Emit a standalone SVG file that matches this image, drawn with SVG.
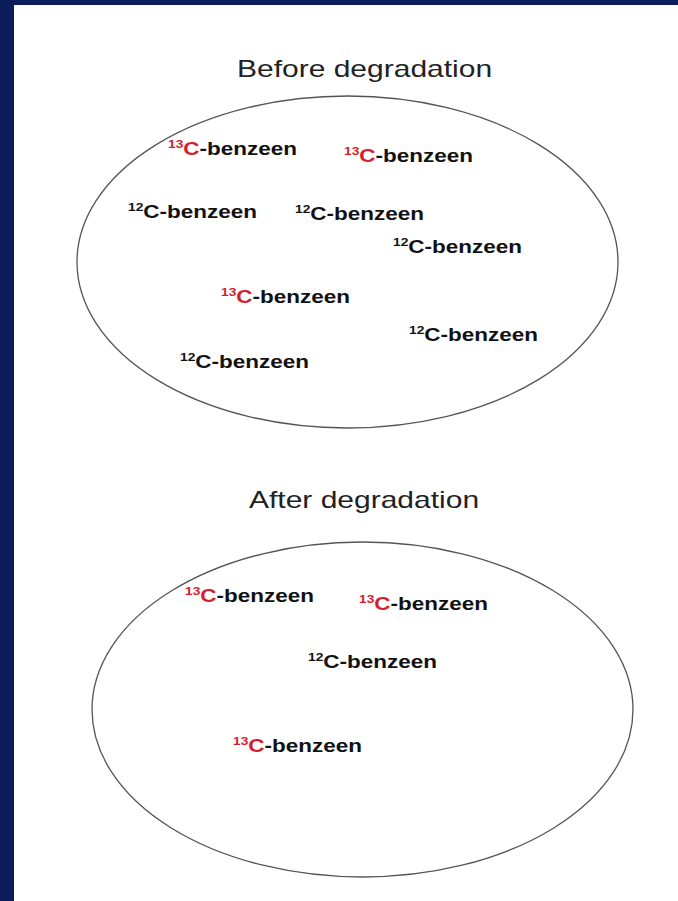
<svg xmlns="http://www.w3.org/2000/svg" width="678" height="901" viewBox="0 0 678 901">
  <style>
    .title { font-family: "Liberation Sans", Arial, sans-serif; font-size: 24px; fill: #222; }
    .lbl { font-family: "Liberation Sans", Arial, sans-serif; font-size: 18px; font-weight: bold; fill: #111; }
    .sup { font-size: 11px; }
    .red { fill: #d3202c; }
    .ell { fill: none; stroke: #555; stroke-width: 1.3; }
  </style>
  <rect x="0" y="0" width="678" height="901" fill="#ffffff"/>
  <rect x="0" y="0" width="678" height="5" fill="#0b1e5b"/>
  <rect x="0" y="0" width="14" height="901" fill="#0b1e5b"/>

  <g id="before">
    <g transform="translate(237,77) scale(1.25,1)"><text class="title" x="0" y="0">Before degradation</text></g>
    <ellipse class="ell" cx="347.5" cy="262" rx="270.5" ry="166"/>
    <g id="b1" transform="translate(168,155) scale(1.25,1)"><text class="lbl"><tspan class="sup red" dy="-7">13</tspan><tspan class="red" dy="7">C</tspan>-benzeen</text></g>
    <g id="b2" transform="translate(344,162) scale(1.25,1)"><text class="lbl"><tspan class="sup red" dy="-7">13</tspan><tspan class="red" dy="7">C</tspan>-benzeen</text></g>
    <g id="b3" transform="translate(128,218) scale(1.25,1)"><text class="lbl"><tspan class="sup" dy="-7">12</tspan><tspan dy="7">C</tspan>-benzeen</text></g>
    <g id="b4" transform="translate(295,220) scale(1.25,1)"><text class="lbl"><tspan class="sup" dy="-7">12</tspan><tspan dy="7">C</tspan>-benzeen</text></g>
    <g id="b5" transform="translate(393,253) scale(1.25,1)"><text class="lbl"><tspan class="sup" dy="-7">12</tspan><tspan dy="7">C</tspan>-benzeen</text></g>
    <g id="b6" transform="translate(221,303) scale(1.25,1)"><text class="lbl"><tspan class="sup red" dy="-7">13</tspan><tspan class="red" dy="7">C</tspan>-benzeen</text></g>
    <g id="b7" transform="translate(409,341) scale(1.25,1)"><text class="lbl"><tspan class="sup" dy="-7">12</tspan><tspan dy="7">C</tspan>-benzeen</text></g>
    <g id="b8" transform="translate(180,368) scale(1.25,1)"><text class="lbl"><tspan class="sup" dy="-7">12</tspan><tspan dy="7">C</tspan>-benzeen</text></g>
  </g>

  <g id="after">
    <g transform="translate(249,508) scale(1.25,1)"><text class="title" x="0" y="0">After degradation</text></g>
    <ellipse class="ell" cx="362.5" cy="709.5" rx="270.5" ry="167.5"/>
    <g id="a1" transform="translate(185,602) scale(1.25,1)"><text class="lbl"><tspan class="sup red" dy="-7">13</tspan><tspan class="red" dy="7">C</tspan>-benzeen</text></g>
    <g id="a2" transform="translate(359,610) scale(1.25,1)"><text class="lbl"><tspan class="sup red" dy="-7">13</tspan><tspan class="red" dy="7">C</tspan>-benzeen</text></g>
    <g id="a3" transform="translate(308,668) scale(1.25,1)"><text class="lbl"><tspan class="sup" dy="-7">12</tspan><tspan dy="7">C</tspan>-benzeen</text></g>
    <g id="a4" transform="translate(233,752) scale(1.25,1)"><text class="lbl"><tspan class="sup red" dy="-7">13</tspan><tspan class="red" dy="7">C</tspan>-benzeen</text></g>
  </g>
</svg>
